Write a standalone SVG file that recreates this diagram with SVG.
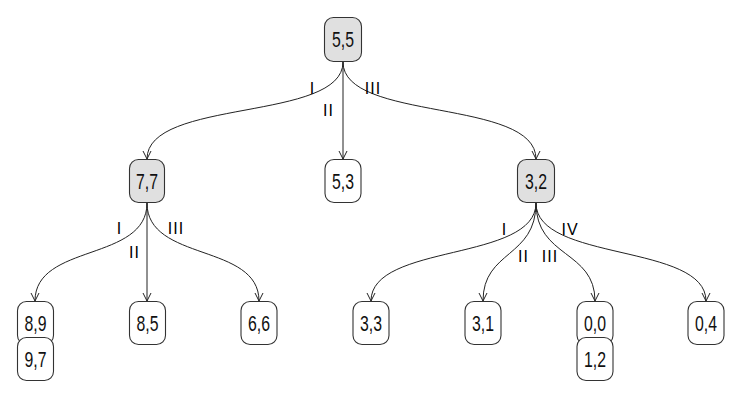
<svg xmlns="http://www.w3.org/2000/svg" width="743" height="398" viewBox="0 0 743 398">
<style>
.n rect{fill:#fff;stroke:#333;stroke-width:1.1}
.n.g rect{fill:#e0e0e0}
.n text{font-family:"Liberation Sans","DejaVu Sans",sans-serif;font-size:22px;fill:#111;text-anchor:middle}
.e path{fill:none;stroke:#222;stroke-width:1;marker-end:url(#a)}
.l text{font-family:"Liberation Sans","DejaVu Sans",sans-serif;font-size:16px;fill:#000;text-anchor:middle;letter-spacing:1px}
</style>
<defs>
<marker id="a" viewBox="0 0 10 10" refX="10" refY="5" markerWidth="10" markerHeight="10" markerUnits="userSpaceOnUse" orient="auto">
<path d="M2,1 L10,5 L2,9" fill="none" stroke="#222" stroke-width="1"/>
</marker>
</defs>
<g id="edges" class="e">
<path d="M343,62 C343,122 147,98 147,159"/>
<path d="M343,62 L343,159"/>
<path d="M343,62 C343,122 536,98 536,159"/>
<path d="M147,203 C147,262 35,243 35,301"/>
<path d="M147,203 L147,301"/>
<path d="M147,203 C147,262 259,243 259,301"/>
<path d="M536,203 C536,262 371,243 371,301"/>
<path d="M536,203 C536,258 483,250 483,301"/>
<path d="M536,203 C536,258 595,250 595,301"/>
<path d="M536,203 C536,262 706,243 706,301"/>
</g>
<g id="labels" class="l">
<text x="312.5" y="94">I</text>
<text x="328.5" y="116">II</text>
<text x="373" y="94">III</text>
<text x="119.5" y="234">I</text>
<text x="134.5" y="258">II</text>
<text x="176" y="234">III</text>
<text x="504.5" y="235">I</text>
<text x="523.5" y="262">II</text>
<text x="550" y="262">III</text>
<text x="570" y="235">IV</text>
</g>
<g id="n55" class="n g"><rect x="324.5" y="17.5" width="37" height="44" rx="9"/><text x="343" y="47" textLength="22" lengthAdjust="spacingAndGlyphs">5,5</text></g>
<g id="n77" class="n g"><rect x="129.5" y="159.5" width="35" height="43" rx="9"/><text x="147" y="189" textLength="22" lengthAdjust="spacingAndGlyphs">7,7</text></g>
<g id="n53" class="n"><rect x="325" y="159.5" width="36" height="43" rx="9"/><text x="343" y="189" textLength="22" lengthAdjust="spacingAndGlyphs">5,3</text></g>
<g id="n32" class="n g"><rect x="517.5" y="159.5" width="37" height="43" rx="9"/><text x="536" y="189" textLength="22" lengthAdjust="spacingAndGlyphs">3,2</text></g>
<g id="n89" class="n"><rect x="17.5" y="301.5" width="36" height="43" rx="9"/><text x="35.5" y="331" textLength="22" lengthAdjust="spacingAndGlyphs">8,9</text></g>
<g id="n97" class="n"><rect x="17.5" y="337.5" width="36" height="43" rx="9"/><text x="35.5" y="367" textLength="22" lengthAdjust="spacingAndGlyphs">9,7</text></g>
<g id="n85" class="n"><rect x="129.5" y="301.5" width="36" height="43" rx="9"/><text x="147.5" y="331" textLength="22" lengthAdjust="spacingAndGlyphs">8,5</text></g>
<g id="n66" class="n"><rect x="241" y="301.5" width="36" height="43" rx="9"/><text x="259" y="331" textLength="22" lengthAdjust="spacingAndGlyphs">6,6</text></g>
<g id="n33" class="n"><rect x="353" y="301.5" width="36" height="43" rx="9"/><text x="371" y="331" textLength="22" lengthAdjust="spacingAndGlyphs">3,3</text></g>
<g id="n31" class="n"><rect x="465" y="301.5" width="36" height="43" rx="9"/><text x="483" y="331" textLength="22" lengthAdjust="spacingAndGlyphs">3,1</text></g>
<g id="n00" class="n"><rect x="577" y="301.5" width="36" height="43" rx="9"/><text x="595" y="331" textLength="22" lengthAdjust="spacingAndGlyphs">0,0</text></g>
<g id="n12" class="n"><rect x="577" y="337.5" width="36" height="43" rx="9"/><text x="595" y="367" textLength="22" lengthAdjust="spacingAndGlyphs">1,2</text></g>
<g id="n04" class="n"><rect x="688" y="301.5" width="36" height="43" rx="9"/><text x="706" y="331" textLength="22" lengthAdjust="spacingAndGlyphs">0,4</text></g>
</svg>
